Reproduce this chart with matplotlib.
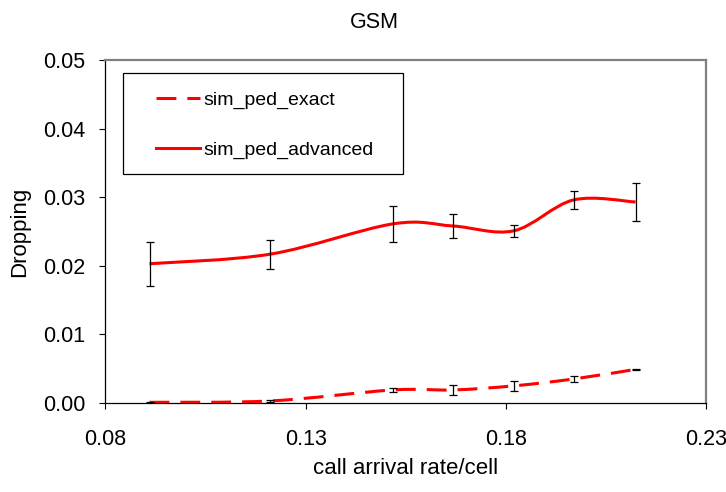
import numpy as np
import matplotlib
matplotlib.use("Agg")
from matplotlib import pyplot as plt
from matplotlib.path import Path
from matplotlib.patches import PathPatch, Rectangle
from matplotlib.lines import Line2D

# data
rate = [0.0910, 0.1212, 0.1517, 0.1668, 0.1820, 0.1969, 0.2124]

exact = [0.0001, 0.0003, 0.0019, 0.0019, 0.0025, 0.0035, 0.0049]
exact_err = [0.0001, 0.0001, 0.0003, 0.0007, 0.0007, 0.0004, 0.0001]

advanced = [0.0203, 0.0217, 0.0261, 0.0258, 0.0251, 0.0296, 0.0293]
advanced_err = [0.0032, 0.0021, 0.0026, 0.0017, 0.0009, 0.0013, 0.0028]

plt.rcParams["font.family"] = ["Liberation Sans", "DejaVu Sans"]


def smooth_path(xs, ys):
    # Excel-style smoothed line: cubic Bezier segments (Catmull-Rom tangents)
    pts = np.column_stack([xs, ys])
    n = len(pts)
    verts = [pts[0]]
    codes = [Path.MOVETO]
    for i in range(n - 1):
        p0 = pts[max(i - 1, 0)]
        p1 = pts[i]
        p2 = pts[i + 1]
        p3 = pts[min(i + 2, n - 1)]
        verts += [p1 + (p2 - p0) / 6, p2 - (p3 - p1) / 6, p2]
        codes += [Path.CURVE4] * 3
    return Path(verts, codes)


fig = plt.figure(figsize=(7.26, 4.92), dpi=100)
ax = fig.add_axes([0.1453, 0.1809, 0.8272, 0.6972])

red = "#ff0000"
lw = 2.2
dash = (0, (6.5, 3.6))

ax.add_patch(PathPatch(smooth_path(rate, exact), fill=False, edgecolor=red,
                       linewidth=lw, linestyle=dash, capstyle="butt", zorder=3))
ax.add_patch(PathPatch(smooth_path(rate, advanced), fill=False, edgecolor=red,
                       linewidth=lw, zorder=3))

ax.errorbar(rate, exact, yerr=exact_err, fmt="none", ecolor="black",
            elinewidth=0.9, capsize=3, capthick=0.9, zorder=4)
ax.errorbar(rate, advanced, yerr=advanced_err, fmt="none", ecolor="black",
            elinewidth=0.9, capsize=3, capthick=0.9, zorder=4)

ax.set_xlim(0.08, 0.23)
ax.set_ylim(0, 0.05)
ax.set_xticks([0.08, 0.13, 0.18, 0.23])
ax.set_yticks(np.arange(0, 0.051, 0.01))
ax.xaxis.set_major_formatter(matplotlib.ticker.FormatStrFormatter("%.2f"))
ax.yaxis.set_major_formatter(matplotlib.ticker.FormatStrFormatter("%.2f"))
ax.tick_params(axis="both", direction="out", length=4.5, width=0.8,
               labelsize=15.5, color="black")
ax.tick_params(axis="x", pad=14)
ax.tick_params(axis="y", pad=10)

for side in ["top", "right"]:
    ax.spines[side].set_color("#808080")
    ax.spines[side].set_linewidth(1.6)
for side in ["left", "bottom"]:
    ax.spines[side].set_color("black")
    ax.spines[side].set_linewidth(0.9)

ax.set_xlabel("call arrival rate/cell", fontsize=16, labelpad=6)
ax.set_ylabel("Dropping", fontsize=16, labelpad=9)
fig.suptitle("GSM", fontsize=15.5, x=0.515, y=0.975)

handles = [
    Line2D([], [], color=red, linewidth=lw, linestyle=dash),
    Line2D([], [], color=red, linewidth=lw),
]
ax.add_patch(Rectangle((0.0296, 0.6676), 0.4661, 0.2936, transform=ax.transAxes,
                       fill=True, facecolor="white", edgecolor="black",
                       linewidth=0.9, zorder=5))
ax.legend(handles, ["sim_ped_exact", "sim_ped_advanced"], loc="upper left",
          bbox_to_anchor=(0.0836, 0.910), frameon=False, fontsize=14,
          borderpad=0, borderaxespad=0, handlelength=2.26, handletextpad=0.2,
          labelspacing=1.66).set_zorder(6)

fig.savefig("out.png", dpi=100)
